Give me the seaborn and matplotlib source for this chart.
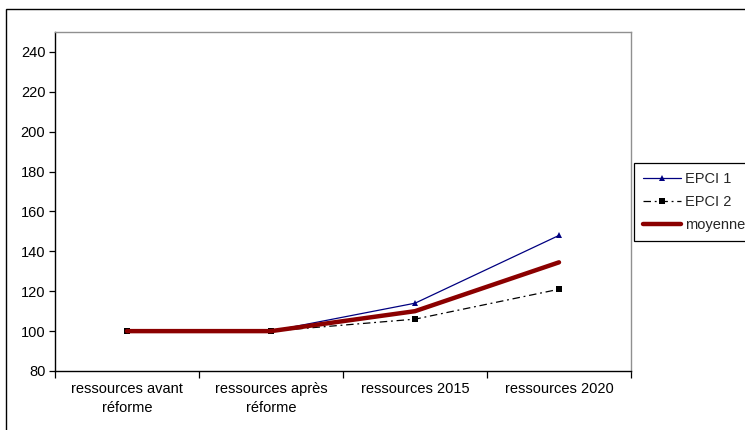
import matplotlib
matplotlib.use("Agg")
import matplotlib.pyplot as plt
from matplotlib.patches import Rectangle
from matplotlib.ticker import FixedLocator, NullFormatter, FixedFormatter
import seaborn as sns
import pandas as pd

categories = ["ressources avant\nréforme", "ressources après\nréforme",
              "ressources 2015", "ressources 2020"]
epci1 = [100, 100, 114, 148]
epci2 = [100, 100, 106, 121]
moyenne = [100, 100, 110, 134.5]
y_ticks = [80, 100, 120, 140, 160, 180, 200, 220, 240]

sns.set_theme(style="white")
plt.rcParams["font.family"] = ["Liberation Sans", "DejaVu Sans"]

fig = plt.figure(figsize=(7.45, 4.3), dpi=100)
ax = fig.add_axes([55 / 745, 1 - 371 / 430, (631 - 55) / 745, (371 - 32) / 430])

pos = list(range(len(categories)))
df = pd.DataFrame({"x": pos, "EPCI 1": epci1, "EPCI 2": epci2, "moyenne": moyenne})

sns.lineplot(data=df, x="x", y="EPCI 1", ax=ax, color="#000080", linewidth=0.9,
             marker="^", markersize=4.5, markeredgewidth=0, label="EPCI 1")
sns.lineplot(data=df, x="x", y="EPCI 2", ax=ax, color="black", linewidth=0.9,
             linestyle=(0, (6, 3, 1.5, 3)), marker="s", markersize=3.8,
             markeredgewidth=0, label="EPCI 2")
sns.lineplot(data=df, x="x", y="moyenne", ax=ax, color="#8B0000", linewidth=3.2,
             label="moyenne")

ax.set_xlim(-0.5, len(categories) - 0.5)
ax.set_ylim(80, 250)
ax.set_xlabel("")
ax.set_ylabel("")

# category boundaries carry the tick marks, labels sit at the centres
ax.xaxis.set_major_locator(FixedLocator([p - 0.5 for p in pos] + [pos[-1] + 0.5]))
ax.xaxis.set_major_formatter(NullFormatter())
ax.xaxis.set_minor_locator(FixedLocator(pos))
ax.xaxis.set_minor_formatter(FixedFormatter(categories))
ax.tick_params(axis="x", which="major", direction="out", length=5, width=0.9,
               color="black", bottom=True)
ax.tick_params(axis="x", which="minor", length=0, pad=8, labelsize=10.5,
               labelcolor="black")
for lbl in ax.xaxis.get_minorticklabels():
    lbl.set_horizontalalignment("center")
    lbl.set_multialignment("center")
    lbl.set_linespacing(1.45)

ax.set_yticks(y_ticks)
ax.tick_params(axis="y", direction="out", length=4, width=0.9, color="black",
               left=True, labelsize=10.5, labelcolor="black", pad=3)

for side in ("left", "bottom"):
    ax.spines[side].set_color("black")
    ax.spines[side].set_linewidth(1.0)
for side in ("top", "right"):
    ax.spines[side].set_color("#909090")
    ax.spines[side].set_linewidth(1.0)

ax.get_legend().remove()
handles, labels = ax.get_legend_handles_labels()
leg = fig.legend(handles, labels, loc="upper left",
                 bbox_to_anchor=(634 / 745, 1 - 163 / 430),
                 frameon=True, fancybox=False, fontsize=10.5, handlelength=2.6,
                 handletextpad=0.3, borderpad=0.6, labelspacing=0.62,
                 borderaxespad=0)
leg.get_frame().set_edgecolor("black")
leg.get_frame().set_linewidth(0.9)
leg.get_frame().set_alpha(1)

# outer chart frame
fig.patches.append(Rectangle((6 / 745, -0.05), 1.2, 1 - 9 / 430 + 0.05,
                             transform=fig.transFigure, fill=False,
                             edgecolor="black", linewidth=1.0))

fig.savefig("out.png", dpi=100)
